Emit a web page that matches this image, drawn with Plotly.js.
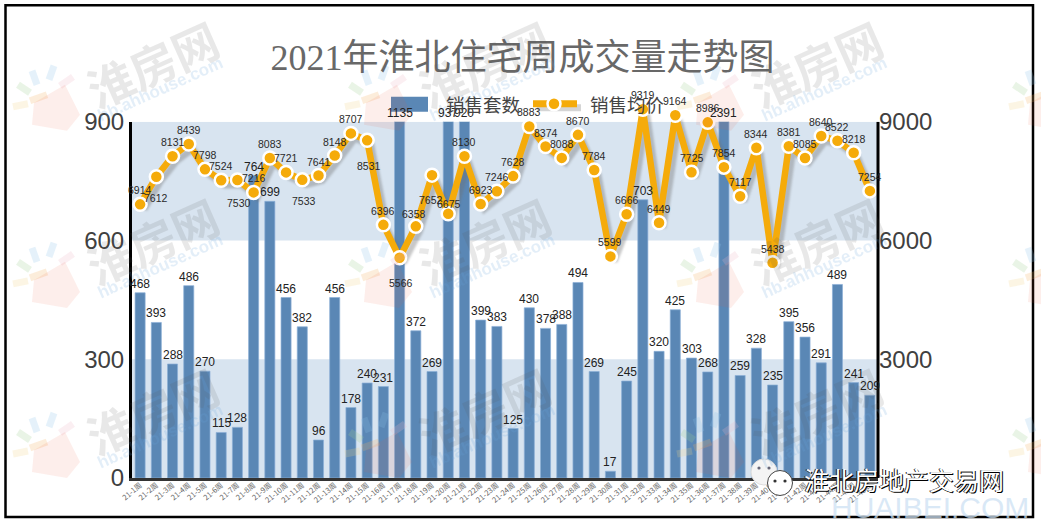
<!DOCTYPE html>
<html><head><meta charset="utf-8">
<script src="https://cdn.plot.ly/plotly-3.0.1.min.js"></script>
<style>
html,body{margin:0;padding:0;background:#fff;overflow:hidden}
#chart{width:1041px;height:525px}
.scatterlayer .js-line{filter:drop-shadow(4px 5px 1px rgba(110,110,110,.38))}
</style></head><body><div id="chart"></div>
<script>
const weeks = ["21-1周","21-2周","21-3周","21-4周","21-5周","21-6周","21-7周","21-8周","21-9周","21-10周","21-11周","21-12周","21-13周","21-14周","21-15周","21-16周","21-17周","21-18周","21-19周","21-20周","21-21周","21-22周","21-23周","21-24周","21-25周","21-26周","21-27周","21-28周","21-29周","21-30周","21-31周","21-32周","21-33周","21-34周","21-35周","21-36周","21-37周","21-38周","21-39周","21-40周","21-41周","21-42周","21-43周","21-44周","21-45周","21-46周"];
const salesCount = [468,393,288,486,270,115,128,764,699,456,382,96,456,178,240,231,1135,372,269,937,920,399,383,125,430,378,388,494,269,17,245,703,320,425,303,268,2391,259,328,235,395,356,291,489,241,209];
const avgPrice = [6914,7612,8131,8439,7798,7524,7530,7216,8083,7721,7533,7641,8148,8707,8531,6396,5566,6358,7652,6675,8130,6923,7246,7628,8883,8374,8088,8670,7784,5599,6666,9319,6449,9164,7725,8986,7854,7117,8344,5438,8381,8085,8640,8522,8218,7254];
const belowLabels = {1:[0,-21],6:[2,-23],10:[2,-21],14:[2,-26],16:[1,-25],18:[-1,-25],19:[1,10],17:[-2,12]};

const L=132,R=878,B=478,W=1041,H=525;
const AXIS_TOP=122, UNIT=(B-AXIS_TOP)/9000, T=B-9500*UNIT, BAR_DOMAIN_TOP=9000/9500;
const px=x=>(x-L)/(R-L), py=y=>(B-y)/(B-T);
const line=(x0,y0,x1,y1,color,width,extra)=>Object.assign({type:'line',xref:'paper',yref:'paper',x0:px(x0),x1:px(x1),y0:py(y0),y1:py(y1),line:{color,width}},extra||{});
const circle=(cx,cy,r,fill,lc,lw)=>({type:'circle',xref:'paper',yref:'paper',x0:px(cx-r),x1:px(cx+r),y0:py(cy+r),y1:py(cy-r),fillcolor:fill,line:{color:lc,width:lw},layer:'above'});

const shapes=[
 {type:'rect',xref:'paper',yref:'y',x0:0,x1:1,y0:600,y1:900,fillcolor:'#d8e4f0',line:{width:0},layer:'below'},
 {type:'rect',xref:'paper',yref:'y',x0:0,x1:1,y0:0,y1:300,fillcolor:'#d8e4f0',line:{width:0},layer:'below'},
 // right axis rule, ending with the left one at the 900 level
 {type:'line',xref:'paper',yref:'y',x0:1,x1:1,y0:0,y1:900,line:{color:'#000',width:3},layer:'above'},
 // frame
 {type:'rect',xref:'paper',yref:'paper',x0:px(5.5),x1:px(1033),y0:py(517),y1:py(5.5),line:{color:'#000',width:2.5},layer:'above'},
 // legend swatches
 {type:'rect',xref:'paper',yref:'paper',x0:px(391),x1:px(428),y0:py(112),y1:py(97),fillcolor:'#5a87b5',line:{width:0},layer:'above'},
 line(537,108,581,108,'rgba(150,150,150,.4)',7,{layer:'above'}),
 line(533,104,577,104,'#f5ab0a',7,{layer:'above'}),
 circle(554,104,6.5,'#f5ab0a','#fff',2.5),
 // wechat mark
 circle(764,472,13,'#f4f4f4','#ddd',1),
 circle(780,483,12.5,'#fff','#444',1),
 circle(759,468,1.6,'#667','#667',0),circle(769,468,1.6,'#667','#667',0),
 circle(775,481,1.6,'#333','#333',0),circle(785,481,1.6,'#333','#333',0)
];

const anns=[];
const petals=[[-134,22,-122,30,'#9fcf8f'],[-120,8,-115,22,'#8cc4ea'],[-98,3,-103,17,'#8cc4ea'],[-79,14,-92,23,'#eeb8c8'],[-139,44,-124,41,'#f2d488'],[-122,38,-105,32,'#f5b060']];
const wmCols=[152,484,816,1148], wmRows=[63,240,410];
wmRows.forEach(cy=>wmCols.forEach(cx=>{
  petals.forEach(p=>shapes.push(line(cx+p[0],cy+p[1],cx+p[2],cy+p[3],p[4],7,{opacity:.22,layer:'above'})));
  shapes.push({type:'path',xref:'paper',yref:'paper',layer:'above',opacity:.1,fillcolor:'#e8553a',line:{width:0},
    path:`M ${px(cx-120)} ${py(cy+62)} L ${px(cx-118)} ${py(cy+40)} L ${px(cx-87)} ${py(cy+22)} L ${px(cx-72)} ${py(cy+52)} L ${px(cx-85)} ${py(cy+68)} Z`});
  if(cx<1100){
    anns.push({xref:'paper',yref:'paper',x:px(cx),y:py(cy),xanchor:'center',yanchor:'middle',text:'<b>淮房网</b>',showarrow:false,textangle:-24,opacity:.13,
      font:{family:'"Noto Sans CJK SC"',size:46,color:'#555'}});
    anns.push({xref:'paper',yref:'paper',x:px(cx+8),y:py(cy+27),xanchor:'center',yanchor:'middle',text:'<b>hb.ahhouse.com</b>',showarrow:false,textangle:-24,opacity:.18,
      font:{family:'"Liberation Sans"',size:17,color:'#6aa6dc'}});
  }
}));

// bar value labels
salesCount.forEach((v,i)=>anns.push({xref:'x',yref:'y',x:weeks[i],y:Math.min(v,900),xanchor:'center',text:String(v),showarrow:false,yanchor:'middle',yshift:9,
  font:{family:'"Liberation Sans"',size:12,color:'#222'}}));
// price labels
avgPrice.forEach((v,i)=>{const o=belowLabels[i]||[0,14];
  anns.push({xref:'x',yref:'y2',x:weeks[i],y:v,xanchor:'center',text:String(v),showarrow:false,yanchor:'middle',xshift:o[0],yshift:o[1],
   font:{family:'"Liberation Sans"',size:10.5,color:'#2a2a2a'}});});
// legend text
[['销售套数',482.5],['销售均价',627]].forEach(t=>anns.push({xref:'paper',yref:'paper',x:px(t[1]),y:py(104),xanchor:'center',yanchor:'middle',text:t[0],showarrow:false,
  font:{family:'"Noto Sans CJK SC"',size:18.5,color:'#444'}}));
// footer brand
anns.push({xref:'paper',yref:'paper',x:px(904),y:py(479),xanchor:'center',yanchor:'middle',text:'淮北房地产交易网',showarrow:false,
  font:{family:'"Noto Sans CJK SC"',size:25,color:'#fff',shadow:'1px 1px 0 #000, -1px 0 0 #222'}});
anns.push({xref:'paper',yref:'paper',x:px(930),y:py(507),xanchor:'center',yanchor:'middle',text:'HUAIBEI.COM',showarrow:false,
  font:{family:'"Liberation Sans"',size:30,color:'rgba(205,225,243,.75)'}});

const traces=[
 {type:'bar',name:'销售套数',x:weeks,y:salesCount,marker:{color:'#5a87b5',line:{color:'rgba(140,175,215,.7)',width:1}},yaxis:'y',showlegend:false,hoverinfo:'x+y'},
 {type:'scatter',mode:'lines+markers',name:'销售均价',x:weeks,y:avgPrice,yaxis:'y2',showlegend:false,
  line:{color:'#f5ab0a',width:6.5},marker:{color:'#f5ab0a',size:13,line:{color:'#fff',width:2.5}}}
];
const tickFont={family:'"Liberation Sans"',size:24,color:'#404040'};
const layout={
 width:W,height:H,paper_bgcolor:'#fff',plot_bgcolor:'rgba(0,0,0,0)',showlegend:false,bargap:0.38,
 margin:{l:L,r:W-R,t:T,b:H-B,pad:0},
 title:{text:'2021年淮北住宅周成交量走势图',x:522.5/W,xref:'container',xanchor:'center',y:1-57/H,yref:'container',yanchor:'middle',
   font:{family:'"Liberation Serif","Noto Sans CJK SC"',size:36,color:'#686868'}},
 xaxis:{type:'category',range:[-0.5,45.5],tickmode:'array',tickvals:weeks,ticktext:weeks,tickangle:-40,ticks:'',ticklabelstandoff:-3,tickfont:{family:'"Noto Sans CJK SC"',size:7.5,color:'#666'},
   showline:true,linecolor:'#333',linewidth:3,showgrid:false,zeroline:false,automargin:false,fixedrange:true,anchor:'y'},
 yaxis:{domain:[0,BAR_DOMAIN_TOP],range:[0,900],tickmode:'array',tickvals:[0,300,600,900],ticks:'',tickfont:tickFont,showline:true,linecolor:'#000',linewidth:3,showgrid:false,zeroline:false,automargin:false,anchor:'x'},
 yaxis2:{domain:[0,1],range:[0,9500],anchor:'x',side:'right',tickmode:'array',tickvals:[3000,6000,9000],ticks:'',tickfont:tickFont,showline:false,showgrid:false,zeroline:false,automargin:false},
 shapes,annotations:anns
};
Plotly.newPlot('chart',traces,layout,{displayModeBar:false,staticPlot:true});
</script></body></html>
